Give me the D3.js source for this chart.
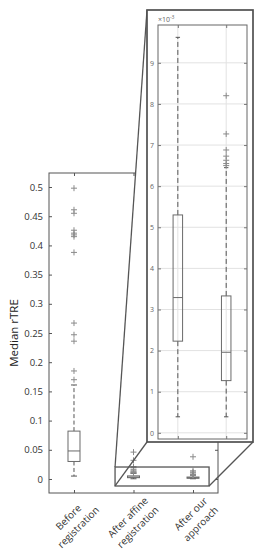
<!DOCTYPE html>
<html><head><meta charset="utf-8">
<script src="https://cdnjs.cloudflare.com/ajax/libs/d3/7.8.5/d3.min.js"></script>
<style>
html,body{margin:0;padding:0;background:#fff;}
svg{display:block;font-family:"Open Sans",sans-serif;}
</style></head>
<body><svg id="chart" width="267" height="550"></svg>
<script>
// ---------- data ----------
const categories = [["Before","registration"],["After affine","registration"],["After our","approach"]];
const boxQ1     = [0.030, 0.00223, 0.00127];
const boxMedian = [0.048, 0.00329, 0.00196];
const boxQ3     = [0.082, 0.00530, 0.00333];
const whiskerLo = [0.005, 0.00039, 0.00039];
const whiskerHi = [0.161, 0.00962, 0.00645];
const outliersBefore = [0.170, 0.185, 0.236, 0.247, 0.267, 0.388, 0.415, 0.418, 0.421, 0.426, 0.455, 0.461, 0.498];
const outliersAffine = [0.0102, 0.0112, 0.0125, 0.014, 0.016, 0.019, 0.021, 0.032, 0.046];
const outliersOurs   = [0.0065, 0.00655, 0.00663, 0.00673, 0.00688, 0.00727, 0.0082, 0.0105, 0.012, 0.014, 0.038];
const mainTicks  = [0, 0.05, 0.1, 0.15, 0.2, 0.25, 0.3, 0.35, 0.4, 0.45, 0.5];
const insetTicks = [0, 1, 2, 3, 4, 5, 6, 7, 8, 9];   // ×10^-3
const insetScale = 1e-3;
const zoomRegionX = [1.69, 3.27];      // data region shown in the inset
const zoomRegionY = [-0.012, 0.0205];
const yLabel = "Median rTRE";

const outliers = [outliersBefore, outliersAffine, outliersOurs];
const stats = categories.map((c,i)=>({i:i+1, q1:boxQ1[i], med:boxMedian[i], q3:boxQ3[i], lo:whiskerLo[i], hi:whiskerHi[i], out:outliers[i]}));

// ---------- layout ----------
const svg = d3.select("#chart");
const M = {l:49, r:218, t:173, b:493};
const x = d3.scaleLinear().domain([0.58, 3.42]).range([M.l, M.r]);
const y = d3.scaleLinear().domain([-0.024, 0.524]).range([M.b, M.t]);
const axisCol = "#555", boxCol = "#6a6a6a", outCol = "#8a8a8a", txtCol = "#333";

svg.append("rect").attr("width",267).attr("height",550).attr("fill","#fff");

function drawBoxes(g, xs, ys, data, bw, dash, cap, plus, k){
  data.forEach(d=>{
    const cx = xs(d.i);
    const wl = bw/2;
    g.append("line").attr("x1",cx).attr("x2",cx).attr("y1",ys(d.q3/k)).attr("y2",ys(d.hi/k))
      .attr("stroke",axisCol).attr("stroke-width",1).attr("stroke-dasharray",dash);
    g.append("line").attr("x1",cx).attr("x2",cx).attr("y1",ys(d.q1/k)).attr("y2",ys(d.lo/k))
      .attr("stroke",axisCol).attr("stroke-width",1).attr("stroke-dasharray",dash);
    [d.lo,d.hi].forEach(v=>{
      g.append("line").attr("x1",cx-cap).attr("x2",cx+cap).attr("y1",ys(v/k)).attr("y2",ys(v/k))
        .attr("stroke",axisCol).attr("stroke-width",1);
    });
    g.append("rect").attr("x",cx-wl).attr("width",bw)
      .attr("y",ys(d.q3/k)).attr("height",Math.max(0.5,ys(d.q1/k)-ys(d.q3/k)))
      .attr("fill","none").attr("stroke",boxCol).attr("stroke-width",1);
    g.append("line").attr("x1",cx-wl).attr("x2",cx+wl).attr("y1",ys(d.med/k)).attr("y2",ys(d.med/k))
      .attr("stroke",boxCol).attr("stroke-width",1);
    d.out.filter(v=>v/k>=ys.domain()[0] && v/k<=ys.domain()[1]).forEach(v=>{
      const py = ys(v/k);
      g.append("path").attr("d",`M${cx-plus},${py}H${cx+plus}M${cx},${py-plus}V${py+plus}`)
        .attr("stroke",outCol).attr("stroke-width",1).attr("fill","none");
    });
  });
}

// ---------- main axes ----------
const main = svg.append("g");
main.append("rect").attr("x",M.l).attr("y",M.t).attr("width",M.r-M.l).attr("height",M.b-M.t)
  .attr("fill","none").attr("stroke",axisCol).attr("stroke-width",1);

function styleAxis(g){ g.select(".domain").remove(); g.selectAll("line").attr("stroke",axisCol); g.selectAll("text").attr("fill",txtCol); }
main.append("g").attr("transform",`translate(${M.l},0)`)
  .call(d3.axisLeft(y).tickValues(mainTicks).tickSize(-3).tickPadding(6).tickFormat(d3.format("~g")))
  .call(styleAxis).selectAll("text").style("font-size","9.5px").style("font-family","Open Sans");
main.append("g").attr("transform",`translate(${M.r},0)`)
  .call(d3.axisRight(y).tickValues(mainTicks).tickSize(-3).tickFormat(""))
  .call(styleAxis);
main.append("g").attr("transform",`translate(0,${M.b})`)
  .call(d3.axisBottom(x).tickValues([1,2,3]).tickSize(-3).tickFormat(""))
  .call(styleAxis);
main.append("g").attr("transform",`translate(0,${M.t})`)
  .call(d3.axisTop(x).tickValues([1,2,3]).tickSize(-3).tickFormat(""))
  .call(styleAxis);

// x tick labels (two lines, centered, rotated)
categories.forEach((lines,i)=>{
  const g = main.append("g").attr("transform",`translate(${x(i+1)+9.6},${M.b+1.3}) rotate(-45)`);
  const ts = lines.map((t,j)=>g.append("text").text(t).attr("fill",txtCol)
      .style("font-size","10px").attr("text-anchor","middle").attr("y",9+j*14));
  const W = d3.max(ts,t=>t.node().getComputedTextLength());
  ts.forEach(t=>t.attr("x",-W/2));
});

// y label
main.append("text").attr("transform",`translate(18,${(M.t+M.b)/2}) rotate(-90)`)
  .attr("text-anchor","middle").attr("fill","#222").style("font-size","11.5px").text(yLabel);

// ---------- zoom projection ----------
const O = {l:147, r:253, t:10, b:442};        // inset outer frame
const zx0 = x(zoomRegionX[0]), zx1 = x(zoomRegionX[1]);
const zy0 = y(zoomRegionY[1]), zy1 = y(zoomRegionY[0]);
svg.append("path").attr("d",`M${O.l},${O.t}L${zx0},${zy0}L${O.l},${O.b}Z`).attr("fill","#fff");

const boxesMain = svg.append("g");
drawBoxes(boxesMain, x, y, stats, 12, "4,2.5", 3, 3, 1);

const proj = svg.append("g").attr("stroke","#555").attr("stroke-width",1.3).attr("fill","none");
proj.append("rect").attr("x",zx0).attr("y",zy0).attr("width",zx1-zx0).attr("height",zy1-zy0);
proj.append("line").attr("x1",O.l).attr("y1",O.t).attr("x2",zx0).attr("y2",zy0);
proj.append("line").attr("x1",O.l).attr("y1",O.b).attr("x2",zx0).attr("y2",zy1);
proj.append("line").attr("x1",O.r).attr("y1",O.b).attr("x2",zx1).attr("y2",zy1);

// ---------- inset ----------
const I = {l:158, r:247, t:25, b:439};
const ix = d3.scaleLinear().domain([1.59, 3.43]).range([I.l, I.r]);
const iy = d3.scaleLinear().domain([-0.15, 9.92]).range([I.b, I.t]);
const inset = svg.append("g");
inset.append("rect").attr("x",O.l).attr("y",O.t).attr("width",O.r-O.l).attr("height",O.b-O.t)
  .attr("fill","#fff").attr("stroke","#505050").attr("stroke-width",1.7);
inset.selectAll(".gy").data(insetTicks).join("line").attr("x1",I.l).attr("x2",I.r)
  .attr("y1",d=>iy(d)).attr("y2",d=>iy(d)).attr("stroke","#e2e2e2").attr("stroke-width",1);
inset.selectAll(".gx").data([2,3]).join("line").attr("y1",I.t).attr("y2",I.b)
  .attr("x1",d=>ix(d)).attr("x2",d=>ix(d)).attr("stroke","#e2e2e2").attr("stroke-width",1);
drawBoxes(inset, ix, iy, stats.slice(1), 9.5, "5,3", 2.2, 3, insetScale);
inset.append("rect").attr("x",I.l).attr("y",I.t).attr("width",I.r-I.l).attr("height",I.b-I.t)
  .attr("fill","none").attr("stroke","#666").attr("stroke-width",1);
function styleInset(g){ g.select(".domain").remove(); g.selectAll("line").attr("stroke","#777"); g.selectAll("text").attr("fill","#666"); }
inset.append("g").attr("transform",`translate(${I.l},0)`)
  .call(d3.axisLeft(iy).tickValues(insetTicks).tickSize(-3).tickPadding(4))
  .call(styleInset).selectAll("text").style("font-size","7px").style("font-family","Open Sans");
inset.append("g").attr("transform",`translate(${I.r},0)`)
  .call(d3.axisRight(iy).tickValues(insetTicks).tickSize(-3).tickFormat("")).call(styleInset);
inset.append("g").attr("transform",`translate(0,${I.b})`)
  .call(d3.axisBottom(ix).tickValues([2,3]).tickSize(-3).tickFormat("")).call(styleInset);
inset.append("g").attr("transform",`translate(0,${I.t})`)
  .call(d3.axisTop(ix).tickValues([2,3]).tickSize(-3).tickFormat("")).call(styleInset);
const ex = inset.append("text").attr("x",I.l).attr("y",I.t-3).attr("fill","#666").style("font-size","7px");
ex.append("tspan").text("\u00d710");
ex.append("tspan").text("-3").attr("dy",-3).style("font-size","5px");
</script></body></html>
